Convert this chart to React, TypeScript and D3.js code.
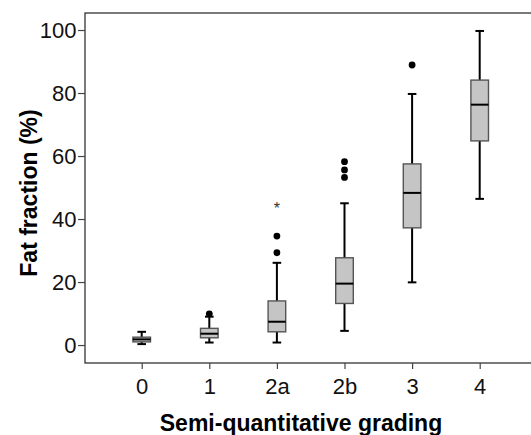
import React, { useEffect, useRef } from 'react';
import * as d3 from 'd3';

const categories = ["0", "1", "2a", "2b", "3", "4"];
const lowerWhisker = [0.3, 0.8, 0.8, 4.5, 19.9, 46.4];
const q1 = [1.0, 2.3, 4.2, 13.2, 37.2, 64.8];
const medians = [1.8, 3.6, 7.4, 19.5, 48.3, 76.3];
const q3 = [2.5, 5.3, 14.0, 27.7, 57.5, 84.1];
const upperWhisker = [4.2, 9.0, 26.1, 45.0, 79.7, 99.7];
const outliers = [[], [9.9], [29.3, 34.6], [53.2, 55.6, 58.2], [88.9], []];
const extremes = [[], [], [43.7], [], [], []];
const yTicks = [0, 20, 40, 60, 80, 100];

const width = 531;
const height = 435;
const font = "'Liberation Sans', Arial, sans-serif";

export default function App() {
  const ref = useRef<SVGSVGElement>(null);

  useEffect(() => {
    const svg = d3.select(ref.current);
    svg.selectAll("*").remove();

    const left = 85, top = 13, bottom = 363, right = 540;

    const x = d3.scalePoint<string>().domain(categories).range([141.7, 479.7]);
    const y = d3.scaleLinear().domain([-5.7, 105.4]).range([bottom, top]);

    // frame
    svg.append("rect")
      .attr("x", left).attr("y", top)
      .attr("width", right - left).attr("height", bottom - top)
      .attr("fill", "none").attr("stroke", "#333").attr("stroke-width", 1.3);

    const yAxis = svg.append("g")
      .attr("transform", "translate(" + left + ",0)")
      .call(d3.axisLeft(y).tickValues(yTicks).tickSize(7).tickPadding(1.5));
    yAxis.select(".domain").remove();

    const xAxis = svg.append("g")
      .attr("transform", "translate(0," + bottom + ")")
      .call(d3.axisBottom(x).tickSize(6).tickPadding(9.5));
    xAxis.select(".domain").remove();

    svg.selectAll(".tick line").attr("stroke", "#444").attr("stroke-width", 1.2);
    svg.selectAll(".tick text")
      .attr("fill", "#111")
      .style("font-family", font)
      .style("font-size", "22px");

    const boxW = 17.6, capW = 8.6;

    const g = svg.append("g");
    categories.forEach((c, i) => {
      const cx = x(c)!;
      // whiskers
      g.append("line")
        .attr("x1", cx).attr("x2", cx)
        .attr("y1", y(upperWhisker[i])).attr("y2", y(lowerWhisker[i]))
        .attr("stroke", "#000").attr("stroke-width", 2);
      [upperWhisker[i], lowerWhisker[i]].forEach(v => {
        g.append("line")
          .attr("x1", cx - capW / 2).attr("x2", cx + capW / 2)
          .attr("y1", y(v)).attr("y2", y(v))
          .attr("stroke", "#000").attr("stroke-width", 2);
      });
      // box
      g.append("rect")
        .attr("x", cx - boxW / 2).attr("width", boxW)
        .attr("y", y(q3[i])).attr("height", y(q1[i]) - y(q3[i]))
        .attr("fill", "#c4c5c4").attr("stroke", "#555").attr("stroke-width", 1.4);
      g.append("line")
        .attr("x1", cx - boxW / 2).attr("x2", cx + boxW / 2)
        .attr("y1", y(medians[i])).attr("y2", y(medians[i]))
        .attr("stroke", "#000").attr("stroke-width", 2);
      // outliers
      outliers[i].forEach(v => {
        g.append("circle")
          .attr("cx", cx).attr("cy", y(v)).attr("r", 3.4)
          .attr("fill", "#000");
      });
      extremes[i].forEach(v => {
        g.append("text")
          .attr("x", cx).attr("y", y(v) + 7)
          .attr("text-anchor", "middle")
          .attr("fill", "#333")
          .style("font-family", font)
          .style("font-size", "16px")
          .text("*");
      });
    });

    svg.append("text")
      .attr("x", 301).attr("y", 431)
      .attr("text-anchor", "middle")
      .style("font-family", font).style("font-size", "23px").style("font-weight", "bold")
      .text("Semi-quantitative grading");

    svg.append("text")
      .attr("transform", "translate(37,193) rotate(-90)")
      .attr("text-anchor", "middle")
      .style("font-family", font).style("font-size", "23px").style("font-weight", "bold")
      .text("Fat fraction (%)");
  }, []);

  return (
    <svg ref={ref} width={width} height={height}
      style={{ position: "absolute", left: 0, top: 0, background: "#fff" }} />
  );
}
